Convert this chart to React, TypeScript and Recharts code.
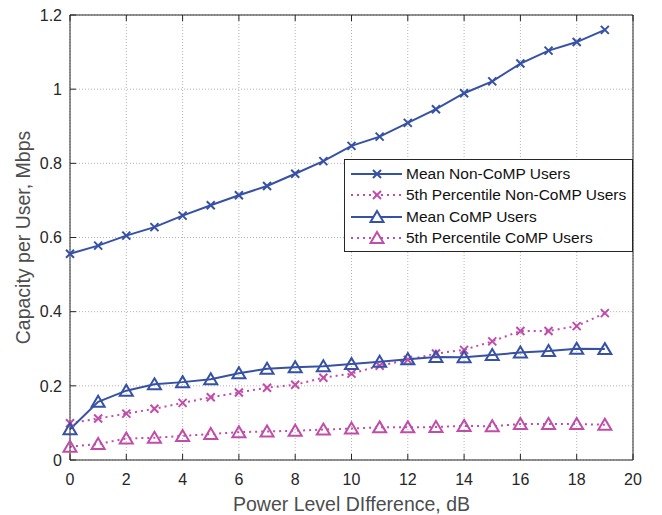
import React from "react";
import {
  LineChart,
  Line,
  XAxis,
  YAxis,
  CartesianGrid,
  Legend,
  Label,
} from "recharts";

const powerDiff = [0, 1, 2, 3, 4, 5, 6, 7, 8, 9, 10, 11, 12, 13, 14, 15, 16, 17, 18, 19];
const meanNonComp = [
  0.556, 0.578, 0.605, 0.628, 0.659, 0.687, 0.714, 0.739, 0.772, 0.806,
  0.847, 0.872, 0.909, 0.946, 0.989, 1.021, 1.069, 1.104, 1.127, 1.16,
];
const p5NonComp = [
  0.099, 0.112, 0.125, 0.138, 0.154, 0.169, 0.182, 0.195, 0.203, 0.222,
  0.233, 0.254, 0.27, 0.287, 0.297, 0.32, 0.348, 0.348, 0.361, 0.396,
];
const meanComp = [
  0.083, 0.157, 0.187, 0.204, 0.21, 0.218, 0.234, 0.246, 0.25, 0.253,
  0.259, 0.265, 0.272, 0.278, 0.277, 0.283, 0.29, 0.294, 0.3, 0.299,
];
const p5Comp = [
  0.036, 0.043, 0.058, 0.06, 0.065, 0.07, 0.075, 0.077, 0.079, 0.082,
  0.085, 0.088, 0.088, 0.089, 0.092, 0.091, 0.097, 0.097, 0.097, 0.095,
];
const xTicks = [0, 2, 4, 6, 8, 10, 12, 14, 16, 18, 20];
const yTicks = [0, 0.2, 0.4, 0.6, 0.8, 1, 1.2];

const legendLabels = [
  "Mean Non-CoMP Users",
  "5th Percentile Non-CoMP Users",
  "Mean CoMP Users",
  "5th Percentile CoMP Users",
];

const BLUE = "#3651a5";
const MAGENTA = "#c04da9";
const AXIS = "#262626";
const TITLE = "#4d4d4d";
const FONT = "'Liberation Sans', Arial, sans-serif";

const data = powerDiff.map((x, i) => ({
  x,
  meanNonComp: meanNonComp[i],
  p5NonComp: p5NonComp[i],
  meanComp: meanComp[i],
  p5Comp: p5Comp[i],
}));

const crossPath = (cx: number, cy: number) =>
  `M${cx - 4},${cy - 4}L${cx + 4},${cy + 4}M${cx - 4},${cy + 4}L${cx + 4},${cy - 4}`;
const trianglePath = (cx: number, cy: number) =>
  `M${cx},${cy - 6}L${cx + 6.5},${cy + 5}L${cx - 6.5},${cy + 5}Z`;

const makeDot = (shape: "x" | "tri", color: string) => (props: any) => {
  const { cx, cy, index } = props;
  if (cx == null || cy == null) return <g key={index} />;
  return (
    <path
      key={`${shape}-${index}`}
      d={shape === "x" ? crossPath(cx, cy) : trianglePath(cx, cy)}
      stroke={color}
      strokeWidth={2}
      fill="none"
    />
  );
};

const fmt = (v: number) => String(+v.toFixed(1));

const BottomTick = ({ x, y, payload }: any) => (
  <g>
    <line x1={x} y1={y - 5} x2={x} y2={y - 11} stroke={AXIS} />
    <text x={x} y={y + 20} textAnchor="middle" fill={AXIS} fontSize={16} fontFamily={FONT}>
      {payload.value}
    </text>
  </g>
);
const TopTick = ({ x, y }: any) => (
  <line x1={x} y1={y + 5} x2={x} y2={y + 11} stroke={AXIS} />
);
const LeftTick = ({ x, y, payload }: any) => (
  <g>
    <line x1={x + 5} y1={y} x2={x + 11} y2={y} stroke={AXIS} />
    <text
      x={x - 3}
      y={y}
      dy="0.36em"
      textAnchor="end"
      fill={AXIS}
      fontSize={16}
      fontFamily={FONT}
    >
      {fmt(payload.value)}
    </text>
  </g>
);
const RightTick = ({ x, y }: any) => (
  <line x1={x - 5} y1={y} x2={x - 11} y2={y} stroke={AXIS} />
);

const LegendBox = () => {
  const styles = [
    { color: BLUE, dash: undefined, shape: "x" as const },
    { color: MAGENTA, dash: "2 4", shape: "x" as const },
    { color: BLUE, dash: undefined, shape: "tri" as const },
    { color: MAGENTA, dash: "2 4", shape: "tri" as const },
  ];
  return (
    <div
      style={{
        width: 287,
        height: 88,
        border: `1px solid ${AXIS}`,
        background: "#fff",
        paddingTop: 3,
        boxSizing: "content-box",
      }}
    >
      {legendLabels.map((label, i) => (
        <div key={label} style={{ display: "flex", alignItems: "center", height: 21.5 }}>
          <svg width={61} height={20} style={{ display: "block" }}>
            <line
              x1={6}
              y1={10}
              x2={57}
              y2={10}
              stroke={styles[i].color}
              strokeWidth={2}
              strokeDasharray={styles[i].dash}
            />
            <path
              d={styles[i].shape === "x" ? crossPath(32, 10) : trianglePath(32, 10)}
              stroke={styles[i].color}
              strokeWidth={2}
              fill={styles[i].shape === "tri" ? "#fff" : "none"}
            />
          </svg>
          <span style={{ fontFamily: FONT, fontSize: 15.5, color: "#111", whiteSpace: "nowrap" }}>
            {label}
          </span>
        </div>
      ))}
    </div>
  );
};

export default function App() {
  return (
    <div style={{ position: "fixed", left: 0, top: 0, background: "#fff" }}>
      <LineChart
        width={662}
        height={515}
        data={data}
        margin={{ top: 0, right: 0, bottom: 0, left: 0 }}
      >
        <CartesianGrid stroke="#b4b4b4" strokeDasharray="1 2" />
        <XAxis
          dataKey="x"
          type="number"
          domain={[0, 20]}
          ticks={xTicks}
          interval={0}
          height={55}
          tickSize={5}
          tickMargin={0}
          tickLine={false}
          axisLine={{ stroke: AXIS }}
          tick={BottomTick}
        >
          <Label
            content={({ viewBox }: any) => (
              <text
                x={viewBox.x + viewBox.width / 2}
                y={viewBox.y + 51}
                textAnchor="middle"
                fill={TITLE}
                fontSize={19.5}
                fontFamily={FONT}
              >
                Power Level DIfference, dB
              </text>
            )}
          />
        </XAxis>
        <XAxis
          xAxisId="top"
          orientation="top"
          dataKey="x"
          type="number"
          domain={[0, 20]}
          ticks={xTicks}
          interval={0}
          height={15}
          tickSize={5}
          tickMargin={0}
          tickLine={false}
          axisLine={{ stroke: AXIS }}
          tick={TopTick}
        />
        <YAxis
          type="number"
          domain={[0, 1.2]}
          ticks={yTicks}
          interval={0}
          width={70}
          tickSize={5}
          tickMargin={0}
          tickLine={false}
          axisLine={{ stroke: AXIS }}
          tick={LeftTick}
        >
          <Label
            content={({ viewBox }: any) => {
              const cx = viewBox.x + 23;
              const cy = viewBox.y + viewBox.height / 2;
              return (
                <text
                  x={cx}
                  y={cy}
                  transform={`rotate(-90 ${cx} ${cy})`}
                  textAnchor="middle"
                  dominantBaseline="central"
                  fill={TITLE}
                  fontSize={19.5}
                  fontFamily={FONT}
                >
                  Capacity per User, Mbps
                </text>
              );
            }}
          />
        </YAxis>
        <YAxis
          yAxisId="right"
          orientation="right"
          type="number"
          domain={[0, 1.2]}
          ticks={yTicks}
          interval={0}
          width={29}
          tickSize={5}
          tickMargin={0}
          tickLine={false}
          axisLine={{ stroke: AXIS }}
          tick={RightTick}
        />
        <Line
          dataKey="meanNonComp"
          stroke={BLUE}
          strokeWidth={2}
          dot={makeDot("x", BLUE)}
          activeDot={false}
          isAnimationActive={false}
        />
        <Line
          dataKey="p5NonComp"
          stroke={MAGENTA}
          strokeWidth={2}
          strokeDasharray="2 4"
          dot={makeDot("x", MAGENTA)}
          activeDot={false}
          isAnimationActive={false}
        />
        <Line
          dataKey="meanComp"
          stroke={BLUE}
          strokeWidth={2}
          dot={makeDot("tri", BLUE)}
          activeDot={false}
          isAnimationActive={false}
        />
        <Line
          dataKey="p5Comp"
          stroke={MAGENTA}
          strokeWidth={2}
          strokeDasharray="2 4"
          dot={makeDot("tri", MAGENTA)}
          activeDot={false}
          isAnimationActive={false}
        />
        <Legend
          layout="vertical"
          align="center"
          verticalAlign="middle"
          content={LegendBox}
          wrapperStyle={{ position: "absolute", left: 344, top: 159, width: 289, height: 92 }}
        />
      </LineChart>
    </div>
  );
}
